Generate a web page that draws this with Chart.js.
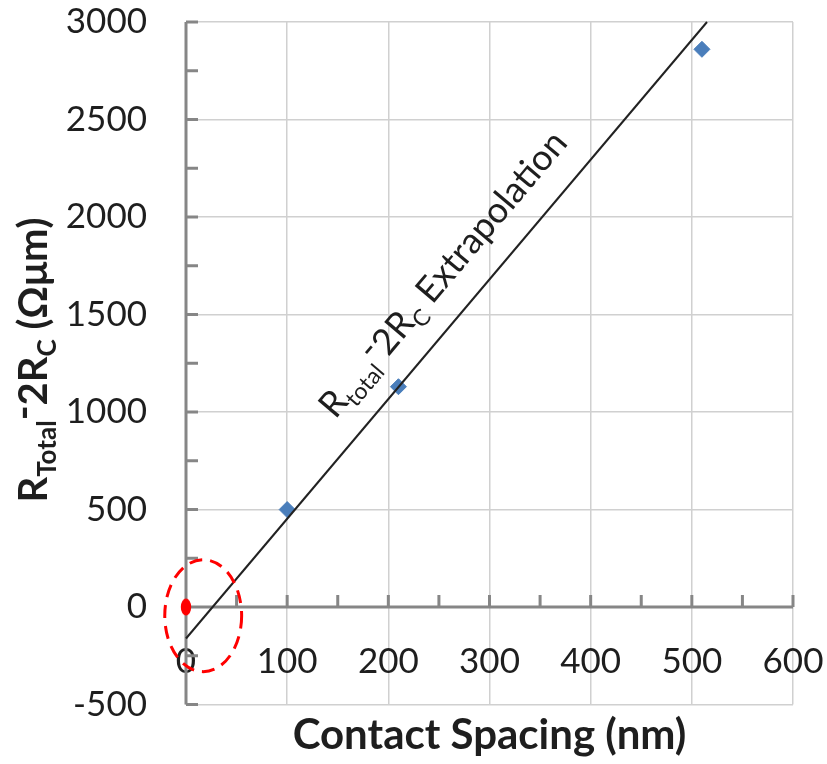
<!DOCTYPE html>
<html>
<head>
<meta charset="utf-8">
<script src="https://cdn.jsdelivr.net/npm/chart.js@4.4.1/dist/chart.umd.min.js"></script>
<style>
    body { margin: 0; background: #fff; }
    #contenedor { width: 827px; height: 764px; }
</style>
</head>
<body>
<div id="contenedor"><canvas id="grafico" width="827" height="764"></canvas></div>
<script>
// valores
var espaciado = [100, 210, 510];
var resistencia = [500, 1130, 2860];
var ajusteX = [0, 515];
var ajusteY = [-161, 3000];
var origenX = [0];
var origenY = [0];
var ticksX = [0, 100, 200, 300, 400, 500, 600];
var ticksY = [-500, 0, 500, 1000, 1500, 2000, 2500, 3000];

// elipse punteada alrededor del origen (unidades de datos)
var elipse = { x: 17, y: -44, rx: 38, ry: 287 };

var fuente = 'Lato, "Open Sans", sans-serif';
var colorTexto = '#1e1e1e';
var transparente = 'rgba(0,0,0,0)';

function puntos(xs, ys) {
    return xs.map(function (v, i) {
        return { x: v, y: ys[i] };
    });
}

// punto rojo (un poco alargado como en la figura)
var puntoRojo = document.createElement('canvas');
puntoRojo.width = 12;
puntoRojo.height = 18;
(function () {
    var c = puntoRojo.getContext('2d');
    c.fillStyle = '#ff0000';
    c.beginPath();
    c.ellipse(6, 9, 5.2, 8.5, 0, 0, Math.PI * 2);
    c.fill();
})();

// dibuja texto con subindices, partes = [{t, f, dy}]
function textoCompuesto(ctx, partes, x, y, ang, centrado) {
    ctx.save();
    ctx.translate(x, y);
    ctx.rotate(ang);
    ctx.textBaseline = 'alphabetic';
    ctx.textAlign = 'left';
    ctx.fillStyle = colorTexto;
    var total = 0;
    partes.forEach(function (p) {
        ctx.font = p.f;
        p.w = ctx.measureText(p.t).width;
        total += p.w;
    });
    var cx = centrado ? -total / 2 : 0;
    partes.forEach(function (p) {
        ctx.font = p.f;
        ctx.fillText(p.t, cx, p.dy || 0);
        cx += p.w;
    });
    ctx.restore();
}

var ejes = {
    id: 'ejes',
    beforeDatasetsDraw: function (chart) {
        var ctx = chart.ctx, a = chart.chartArea;
        var sx = chart.scales.x, sy = chart.scales.y;
        var x0 = sx.getPixelForValue(0), y0 = sy.getPixelForValue(0);
        ctx.save();
        ctx.strokeStyle = '#868686';
        ctx.lineWidth = 3;
        ctx.beginPath();
        ctx.moveTo(x0, a.top);
        ctx.lineTo(x0, a.bottom);
        ctx.moveTo(a.left, y0);
        ctx.lineTo(a.right, y0);
        // marcas hacia adentro
        for (var v = ticksY[0]; v <= ticksY[ticksY.length - 1]; v += 250) {
            var py = sy.getPixelForValue(v);
            ctx.moveTo(x0, py);
            ctx.lineTo(x0 + 12, py);
        }
        for (var u = ticksX[0]; u <= ticksX[ticksX.length - 1]; u += 50) {
            var px = sx.getPixelForValue(u);
            ctx.moveTo(px, y0);
            ctx.lineTo(px, y0 - 12);
        }
        ctx.stroke();
        ctx.restore();
    },
    afterDatasetsDraw: function (chart) {
        var ctx = chart.ctx;
        var sx = chart.scales.x, sy = chart.scales.y;

        // elipse roja
        var cx = sx.getPixelForValue(elipse.x), cy = sy.getPixelForValue(elipse.y);
        var rx = sx.getPixelForValue(elipse.x + elipse.rx) - cx;
        var ry = cy - sy.getPixelForValue(elipse.y + elipse.ry);
        ctx.save();
        ctx.strokeStyle = '#ff0000';
        ctx.lineWidth = 3;
        ctx.setLineDash([13, 8]);
        ctx.beginPath();
        ctx.ellipse(cx, cy, rx, ry, 0, 0, Math.PI * 2);
        ctx.stroke();
        ctx.restore();

        // etiqueta de la recta
        var p0 = { x: sx.getPixelForValue(ajusteX[0]), y: sy.getPixelForValue(ajusteY[0]) };
        var p1 = { x: sx.getPixelForValue(ajusteX[1]), y: sy.getPixelForValue(ajusteY[1]) };
        var ang = Math.atan2(p1.y - p0.y, p1.x - p0.x);
        var t = (sx.getPixelForValue(168) - p0.x) / (p1.x - p0.x);
        var bx = p0.x + t * (p1.x - p0.x) + Math.sin(ang) * 27;
        var by = p0.y + t * (p1.y - p0.y) - Math.cos(ang) * 27;
        var fN = '36px ' + fuente, fS = '23px ' + fuente;
        textoCompuesto(ctx, [
            { t: 'R', f: fN },
            { t: 'total', f: fS, dy: 8 },
            { t: '-', f: fN, dy: -9 },
            { t: '2R', f: fN },
            { t: 'C', f: fS, dy: 8 },
            { t: ' Extrapolation', f: fN }
        ], bx, by, ang, false);
    },
    afterDraw: function (chart) {
        var fN = 'bold 40px ' + fuente, fS = 'bold 26px ' + fuente;
        textoCompuesto(chart.ctx, [
            { t: 'R', f: fN },
            { t: 'Total', f: fS, dy: 9 },
            { t: '-', f: fN, dy: -10 },
            { t: '2R', f: fN },
            { t: 'C', f: fS, dy: 9 },
            { t: ' (Ωμm)', f: fN }
        ], 47, 360, -Math.PI / 2, true);
    }
};

var ctxG = document.getElementById('grafico').getContext('2d');
var grafico = new Chart(ctxG, {
    type: 'scatter',
    data: {
        datasets: [{
                label: 'ajuste',
                data: puntos(ajusteX, ajusteY),
                showLine: true,
                borderColor: '#222222',
                borderWidth: 2,
                pointRadius: 0,
                clip: false
            },
            {
                label: 'medidas',
                data: puntos(espaciado, resistencia),
                pointStyle: 'rectRot',
                pointRadius: 8,
                backgroundColor: '#4a7ebb',
                borderColor: '#4a7ebb',
                borderWidth: 1
            },
            {
                label: 'origen',
                data: puntos(origenX, origenY),
                pointStyle: puntoRojo,
                clip: false
            }
        ]
    },
    options: {
        responsive: false,
        animation: false,
        layout: {
            padding: { top: 22, right: 34, left: 0, bottom: 0 }
        },
        plugins: {
            legend: { display: false },
            tooltip: { enabled: false },
            title: {
                display: true,
                position: 'bottom',
                fullSize: false,
                text: 'Contact Spacing (nm)',
                color: colorTexto,
                font: { family: fuente, size: 42, weight: 'bold', lineHeight: 1.2 },
                padding: { top: 6, bottom: 3 }
            }
        },
        scales: {
            x: {
                type: 'linear',
                position: { y: 0 },
                min: ticksX[0],
                max: ticksX[ticksX.length - 1],
                afterFit: function (escala) {
                    escala.height = 0;
                },
                ticks: {
                    stepSize: ticksX[1] - ticksX[0],
                    padding: 0,
                    color: colorTexto,
                    font: { family: fuente, size: 35 },
                    maxRotation: 0,
                    callback: function (v) { return String(v); }
                },
                grid: { color: '#d0d0d0', lineWidth: 1.5, tickLength: 34, tickColor: transparente },
                border: { display: false }
            },
            y: {
                type: 'linear',
                min: ticksY[0],
                max: ticksY[ticksY.length - 1],
                afterFit: function (escala) {
                    escala.width = 186;
                },
                ticks: {
                    stepSize: ticksY[1] - ticksY[0],
                    padding: 0,
                    color: colorTexto,
                    font: { family: fuente, size: 35 },
                    callback: function (v) { return String(v); }
                },
                grid: { color: '#d0d0d0', lineWidth: 1.5, tickLength: 39, tickColor: transparente },
                border: { display: false }
            }
        }
    },
    plugins: [ejes]
});
</script>
</body>
</html>
